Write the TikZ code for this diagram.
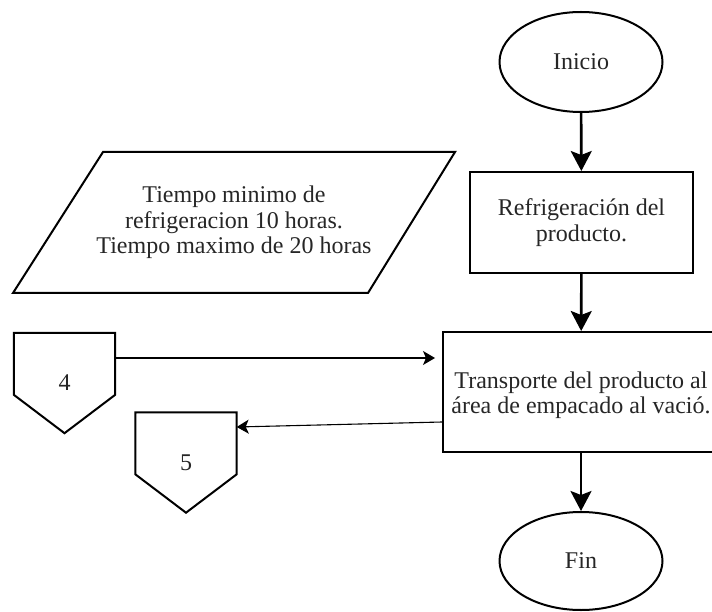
\documentclass[tikz,border=0pt]{standalone}
\usepackage{fontspec}
\setmainfont{Liberation Serif}
\usetikzlibrary{arrows.meta,shapes.geometric}
\begin{document}
\begin{tikzpicture}[x=1pt,y=-1pt,
  every node/.style={font=\fontsize{24}{25.5}\selectfont, text=black!85, align=center, inner sep=0pt},
  term/.style={draw, ellipse, line width=2pt, minimum width=163pt, minimum height=100pt},
  proc/.style={draw, rectangle, line width=2pt},
  offpage/.style={rectangle, minimum width=101pt, minimum height=100pt},
  flow/.style={line width=2.6pt, -{Stealth[length=20pt,width=21pt,inset=4pt]}},
  link/.style={line width=1.1pt, -{Stealth[length=12pt,width=14pt,inset=3pt]}}
]
\useasboundingbox (0,0) rectangle (712,612);

% main column
\node[term] (inicio) at (581,62) {Inicio};
\node[proc, minimum width=223pt, minimum height=101pt] (refrig) at (581.5,222.5)
  {Refrigeración del\\producto.};
\node[proc, minimum width=276pt, minimum height=120pt] (trans) at (581,392)
  {\\[-2pt]Transporte del producto al\\área de empacado al vació.};
\node[term, minimum height=98pt] (fin) at (581,561) {Fin};

% data parallelogram
\node (datos) at (234,222.5)
  {Tiempo minimo de\\refrigeracion 10 horas.\\Tiempo maximo de 20 horas};
\draw[line width=2pt, line join=miter] (13,293) -- (103,152) -- (455,152) -- (368,293) -- cycle;

% off-page connectors
\node[offpage] (c4) at (64.5,383) {4};
\node[offpage] (c5) at (186,462.5) {5};
\foreach \n in {c4,c5}
  \draw[line width=2pt, line join=miter]
    (\n.north west) -- (\n.north east) -- ([yshift=-62pt]\n.north east)
    -- (\n.south) -- ([yshift=-62pt]\n.north west) -- cycle;

% flow lines
\draw[flow] (inicio) -- (refrig);
\draw[flow] (refrig) -- (trans);
\draw[flow] (trans) -- (fin);
\draw[link, shorten >=7pt] ([yshift=25pt]c4.east) -- ([yshift=34pt]trans.west);
\draw[link] ([yshift=-30pt]trans.west) -- ([yshift=35.5pt]c5.east);
\end{tikzpicture}
\end{document}
